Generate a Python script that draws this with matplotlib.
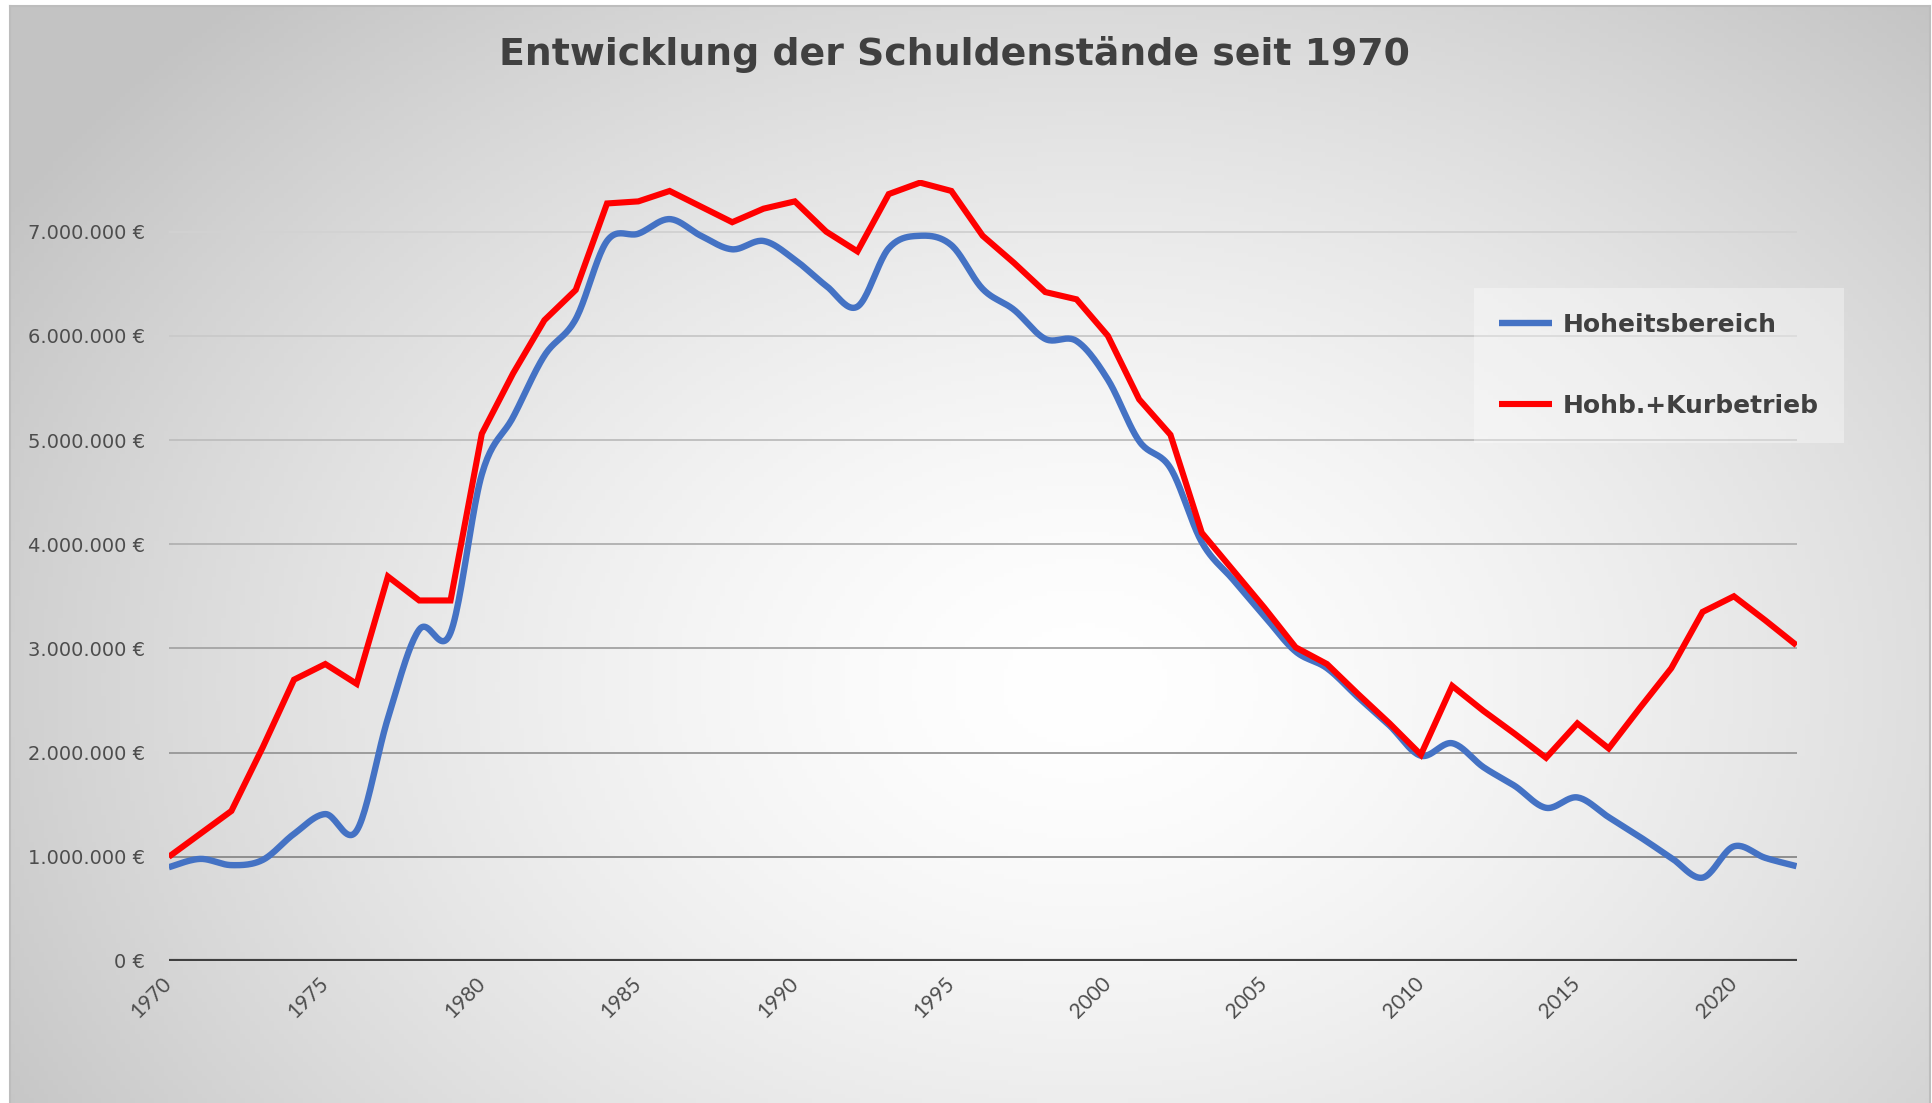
import matplotlib
matplotlib.use('Agg')
import matplotlib.pyplot as plt
import numpy as np
from matplotlib.ticker import FuncFormatter, MultipleLocator

# Jahre und Schuldenstände (in Mio. €)
years = list(range(1970, 2023))

hoheit = [0.90, 0.98, 0.92, 0.97, 1.22, 1.41, 1.25, 2.33, 3.18, 3.15,
          4.67, 5.22, 5.81, 6.16, 6.91, 6.98, 7.12, 6.96, 6.83, 6.91,
          6.73, 6.48, 6.28, 6.84, 6.96, 6.87, 6.45, 6.25, 5.97, 5.95,
          5.58, 4.99, 4.73, 4.02, 3.66, 3.31, 2.97, 2.81, 2.53, 2.26,
          1.97, 2.09, 1.86, 1.68, 1.47, 1.57, 1.38, 1.19, 0.99, 0.80,
          1.10, 0.99, 0.91]

kurbetrieb = [1.00, 1.22, 1.44, 2.05, 2.70, 2.85, 2.66, 3.69, 3.46, 3.46,
              5.06, 5.64, 6.15, 6.44, 7.27, 7.29, 7.39, 7.24, 7.09, 7.22,
              7.29, 7.00, 6.81, 7.36, 7.47, 7.39, 6.96, 6.70, 6.42, 6.35,
              6.00, 5.39, 5.05, 4.11, 3.75, 3.39, 3.01, 2.85, 2.56, 2.28,
              1.98, 2.64, 2.40, 2.18, 1.95, 2.28, 2.04, 2.43, 2.81, 3.35,
              3.50, 3.27, 3.03]

labels = ['Hoheitsbereich', 'Hohb.+Kurbetrieb']
title = 'Entwicklung der Schuldenstände seit 1970'
xtick_years = list(range(1970, 2021, 5))
grid_levels = [1e6, 2e6, 3e6, 4e6, 5e6, 6e6, 7e6]


def smooth_curve(x, y, n=24):
    # Excel-artige Glättung (Bezier mit Catmull-Rom Kontrollpunkten)
    x = np.asarray(x, float)
    y = np.asarray(y, float)
    px = np.concatenate([[x[0]], x, [x[-1]]])
    py = np.concatenate([[y[0]], y, [y[-1]]])
    t = np.linspace(0, 1, n)
    xs, ys = [], []
    for i in range(1, len(px) - 2):
        p0 = np.array([px[i], py[i]])
        p3 = np.array([px[i + 1], py[i + 1]])
        c1 = p0 + (p3 - np.array([px[i - 1], py[i - 1]])) / 6
        c2 = p3 - (np.array([px[i + 2], py[i + 2]]) - p0) / 6
        b = ((1 - t) ** 3)[:, None] * p0 + (3 * (1 - t) ** 2 * t)[:, None] * c1 \
            + (3 * (1 - t) * t ** 2)[:, None] * c2 + (t ** 3)[:, None] * p3
        xs.extend(b[:, 0])
        ys.extend(b[:, 1])
    return np.array(xs), np.array(ys)


W, H = 1932, 1103
fig = plt.figure(figsize=(W / 100, H / 100), dpi=100, facecolor='white')

# radialer Hintergrund
bg = fig.add_axes([10 / W, 0, 1 - 12 / W, 1 - 6 / H], zorder=-5)
gx, gy = np.meshgrid(np.linspace(0, 1, 400), np.linspace(0, 1, 240))
d = np.sqrt(((gx - 0.56) / 0.66) ** 2 + ((gy - 0.62) / 0.85) ** 2)
shade = 1 - 0.235 * np.clip(d, 0, 1) ** 1.5
bg.imshow(np.dstack([shade] * 3), extent=[0, 1, 0, 1], origin='upper', aspect='auto')
bg.set_xticks([])
bg.set_yticks([])
bg.spines['bottom'].set_visible(False)
for side in ['left', 'top', 'right']:
    bg.spines[side].set_color('#bdbdbd')
    bg.spines[side].set_linewidth(1.5)

ax = fig.add_axes([168.8 / W, (H - 961) / H, (1796.5 - 168.8) / W, (961 - 179.5) / H])
ax.set_facecolor('none')

hx, hy = smooth_curve(years, hoheit)
ax.plot(hx, np.array(hy) * 1e6, color='#4472c4', lw=4.6, solid_capstyle='butt',
        label=labels[0], zorder=3)
ax.plot(years, np.array(kurbetrieb) * 1e6, color='#ff0000', lw=4.4,
        solid_joinstyle='miter', solid_capstyle='butt', label=labels[1], zorder=4)

ax.set_xlim(1970, 2022)
ax.set_ylim(0, 7.5e6)
ax.yaxis.set_major_locator(MultipleLocator(1e6))
ax.yaxis.set_major_formatter(FuncFormatter(
    lambda v, p: '{:,.0f} €'.format(v).replace(',', '.')))
ax.set_xticks(xtick_years)
ax.set_xticklabels([str(y) for y in xtick_years], rotation=45, ha='right',
                   va='center', rotation_mode='anchor', family='Lato')

# Gitterlinien: oben heller, unten dunkler
grid_colors = ['#8e8e8e', '#9c9c9c', '#a8a8a8', '#b4b4b4', '#c0c0c0', '#cacaca', '#d2d2d2']
for lvl, c in zip(grid_levels, grid_colors):
    ax.axhline(lvl, color=c, lw=1.4, zorder=1)
for side in ['top', 'right', 'left', 'bottom']:
    ax.spines[side].set_visible(False)
ax.axhline(0, color='#404040', lw=3.0, zorder=2)

ax.tick_params(axis='y', length=0, pad=17, labelsize=14.0, labelcolor='#4d4d4d')
ax.tick_params(axis='x', length=0, pad=14, labelsize=15, labelcolor='#4d4d4d')

fig.text(0.494, 0.951, title, ha='center', va='center', fontsize=27.3,
         fontweight='bold', color='#404040')

leg = ax.legend(loc='upper left', bbox_to_anchor=(1474 / W, 1 - 288 / H),
                bbox_transform=fig.transFigure, frameon=True, fancybox=False,
                borderaxespad=0, borderpad=1.0, handlelength=2.1, handletextpad=0.45,
                labelspacing=2.28, prop={'size': 18, 'weight': 'bold'})
leg.get_frame().set_facecolor('white')
leg.get_frame().set_alpha(0.35)
leg.get_frame().set_edgecolor('none')
for t in leg.get_texts():
    t.set_color('#404040')

plt.savefig('out.png', dpi=100)
